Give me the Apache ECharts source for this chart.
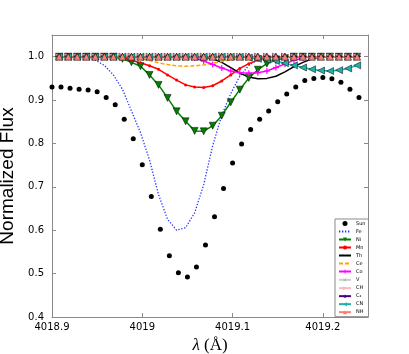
<!DOCTYPE html>
<html>
<head>
<meta charset="utf-8">
<script src="https://cdn.jsdelivr.net/npm/echarts@6/dist/echarts.min.js"></script>
<style>
  html, body { margin: 0; padding: 0; background: #fff; }
  #chart { width: 409px; height: 354px; }
</style>
</head>
<body>
<div id="chart"></div>
<script>
// observed solar spectrum (every 0.01 A)
const sunWave = [4018.90, 4018.91, 4018.92, 4018.93, 4018.94, 4018.95, 4018.96, 4018.97, 4018.98, 4018.99,
  4019.00, 4019.01, 4019.02, 4019.03, 4019.04, 4019.05, 4019.06, 4019.07, 4019.08, 4019.09,
  4019.10, 4019.11, 4019.12, 4019.13, 4019.14, 4019.15, 4019.16, 4019.17, 4019.18, 4019.19,
  4019.20, 4019.21, 4019.22, 4019.23, 4019.24]
const sunFlux = [0.930, 0.930, 0.927, 0.925, 0.923, 0.919, 0.906, 0.889, 0.856, 0.811,
  0.751, 0.678, 0.602, 0.541, 0.502, 0.492, 0.515, 0.566, 0.631, 0.696,
  0.755, 0.799, 0.832, 0.856, 0.875, 0.896, 0.914, 0.930, 0.945, 0.950,
  0.952, 0.949, 0.941, 0.925, 0.906]

// synthetic spectra grid
const synWave = [4018.908, 4018.918, 4018.928, 4018.938, 4018.948, 4018.958, 4018.968, 4018.978, 4018.988, 4018.998,
  4019.008, 4019.018, 4019.028, 4019.038, 4019.048, 4019.058, 4019.068, 4019.078, 4019.088, 4019.098,
  4019.108, 4019.118, 4019.128, 4019.138, 4019.148, 4019.158, 4019.168, 4019.178, 4019.188, 4019.198,
  4019.208, 4019.218, 4019.228, 4019.238]
const feFlux = [1.0, 1.0, 1.0, 0.999, 0.992, 0.980, 0.958, 0.925, 0.875, 0.825,
  0.762, 0.682, 0.625, 0.600, 0.606, 0.640, 0.705, 0.795, 0.865, 0.915,
  0.955, 0.980, 0.993, 0.998, 1.0, 1.0, 1.0, 1.0, 1.0, 1.0,
  1.0, 1.0, 1.0, 1.0]
const niFlux = [1.0, 1.0, 1.0, 1.0, 1.0, 1.0, 1.0, 0.995, 0.987, 0.978,
  0.958, 0.935, 0.905, 0.874, 0.851, 0.829, 0.828, 0.841, 0.864, 0.895,
  0.924, 0.951, 0.970, 0.984, 0.992, 0.997, 1.0, 1.0, 1.0, 1.0,
  1.0, 1.0, 1.0, 1.0]
const mnFlux = [1.0, 1.0, 1.0, 1.0, 1.0, 1.0, 1.0, 0.998, 0.992, 0.986,
  0.979, 0.971, 0.958, 0.946, 0.935, 0.930, 0.929, 0.933, 0.944, 0.958,
  0.973, 0.984, 0.992, 0.997, 1.0, 1.0, 1.0, 1.0, 1.0, 1.0,
  1.0, 1.0, 1.0, 1.0]
const thFlux = [1.0, 1.0, 1.0, 1.0, 1.0, 1.0, 1.0, 1.0, 1.0, 1.0,
  1.0, 1.0, 1.0, 1.0, 1.0, 1.0, 0.999, 0.995, 0.987, 0.975,
  0.962, 0.953, 0.949, 0.950, 0.955, 0.965, 0.977, 0.987, 0.995, 1.0,
  1.0, 1.0, 1.0, 1.0]
const ceFlux = [1.0, 1.0, 1.0, 1.0, 1.0, 1.0, 1.0, 1.0, 1.0, 0.996,
  0.991, 0.986, 0.982, 0.979, 0.978, 0.979, 0.981, 0.985, 0.989, 0.993,
  0.997, 1.0, 1.0, 1.0, 1.0, 1.0, 1.0, 1.0, 1.0, 1.0,
  1.0, 1.0, 1.0, 1.0]
const coFlux = [1.0, 1.0, 1.0, 1.0, 1.0, 1.0, 1.0, 1.0, 1.0, 1.0,
  1.0, 1.0, 1.0, 1.0, 1.0, 0.997, 0.990, 0.982, 0.974, 0.967,
  0.963, 0.962, 0.963, 0.967, 0.975, 0.983, 0.992, 0.997, 1.0, 1.0,
  1.0, 1.0, 1.0, 1.0]
const vFlux = [1.0, 1.0, 1.0, 1.0, 1.0, 1.0, 1.0, 1.0, 1.0, 1.0,
  1.0, 1.0, 1.0, 1.0, 1.0, 1.0, 1.0, 1.0, 1.0, 1.0,
  1.0, 1.0, 1.0, 1.0, 1.0, 1.0, 1.0, 1.0, 1.0, 1.0,
  1.0, 1.0, 1.0, 1.0]
const chFlux = [1.0, 1.0, 1.0, 1.0, 1.0, 1.0, 1.0, 1.0, 1.0, 1.0,
  1.0, 1.0, 1.0, 1.0, 1.0, 1.0, 1.0, 1.0, 1.0, 1.0,
  1.0, 1.0, 1.0, 1.0, 1.0, 1.0, 1.0, 1.0, 1.0, 1.0,
  1.0, 1.0, 1.0, 1.0]
const c2Flux = [1.0, 1.0, 1.0, 1.0, 1.0, 1.0, 1.0, 1.0, 1.0, 1.0,
  1.0, 1.0, 1.0, 1.0, 1.0, 1.0, 1.0, 1.0, 1.0, 1.0,
  1.0, 1.0, 1.0, 1.0, 1.0, 1.0, 1.0, 1.0, 1.0, 1.0,
  1.0, 1.0, 1.0, 1.0]
const cnFlux = [1.0, 1.0, 1.0, 1.0, 1.0, 1.0, 1.0, 1.0, 1.0, 1.0,
  1.0, 1.0, 1.0, 1.0, 1.0, 1.0, 1.0, 1.0, 1.0, 1.0,
  1.0, 0.998, 0.995, 0.993, 0.990, 0.985, 0.980, 0.975, 0.971, 0.968,
  0.967, 0.969, 0.973, 0.980]
const nhFlux = [1.0, 1.0, 1.0, 1.0, 1.0, 1.0, 1.0, 1.0, 1.0, 1.0,
  1.0, 1.0, 1.0, 1.0, 1.0, 1.0, 1.0, 1.0, 1.0, 1.0,
  1.0, 1.0, 1.0, 1.0, 1.0, 1.0, 1.0, 1.0, 1.0, 1.0,
  1.0, 1.0, 1.0, 1.0]

const PLUS = 'path://M4,0H6V4H10V6H6V10H4V6H0V4H4Z'
const STAR = 'path://M50,0L61,35H98L68,57L79,91L50,70L21,91L32,57L2,35H39Z'
const frame = '#8a8a8a'

const pairs = (xs, ys) => xs.map((x, i) => [x, ys[i]])

function synLine(name, flux, color, opts) {
  return Object.assign({
    name,
    type: 'line',
    data: pairs(synWave, flux),
    showAllSymbol: true,
    silent: true,
    color,
    symbol: 'none',
    lineStyle: { color, width: 1.5 },
    itemStyle: { color, borderColor: '#000', borderWidth: 0.5 }
  }, opts)
}

const chart = echarts.init(document.getElementById('chart'))

const xBase = {
  type: 'value', min: 4018.9, max: 4019.25, interval: 0.1,
  axisLine: { onZero: false, lineStyle: { color: frame, width: 1 } },
  axisTick: { inside: true, length: 4, lineStyle: { color: frame } },
  splitLine: { show: false }
}
const yBase = {
  type: 'value', min: 0.4, max: 1.05, interval: 0.1,
  axisLine: { onZero: false, lineStyle: { color: frame, width: 1 } },
  axisTick: { inside: true, length: 4, lineStyle: { color: frame } },
  splitLine: { show: false }
}

// line-only entries: hide the legend symbol, keep the line
const noMark = { opacity: 0, borderWidth: 0 }

chart.setOption({
  animation: false,
  grid: { left: 52, right: 41, top: 35, bottom: 37, outerBoundsMode: 'none', containLabel: false },
  legend: {
    orient: 'vertical',
    left: 335, top: 219,
    padding: [2, 3],
    itemGap: 3,
    itemWidth: 12,
    itemHeight: 5,
    backgroundColor: '#fff',
    borderColor: frame,
    borderWidth: 1,
    itemStyle: { borderWidth: 0 },
    textStyle: { fontSize: 5, lineHeight: 5, color: '#000', fontFamily: 'DejaVu Sans' },
    data: ['Sun', { name: 'Fe', itemStyle: noMark }, 'Ni', 'Mn', { name: 'Th', itemStyle: noMark },
      { name: 'Ce', itemStyle: noMark }, 'Co', 'V', 'CH', 'C₂', 'CN', 'NH']
  },
  xAxis: [
    Object.assign({}, xBase, {
      position: 'bottom',
      axisLabel: {
        showMaxLabel: false, color: '#000', fontSize: 10, fontFamily: 'DejaVu Sans', margin: 5,
        formatter: v => String(+v.toFixed(1))
      },
      name: '{i|λ} (Å)',
      nameLocation: 'middle',
      nameGap: 19,
      nameTextStyle: {
        color: '#000', fontSize: 17, fontFamily: 'Liberation Serif',
        rich: { i: { fontStyle: 'italic', fontSize: 17, fontFamily: 'Liberation Serif' } }
      }
    }),
    Object.assign({}, xBase, { position: 'top', axisLabel: { show: false } })
  ],
  yAxis: [
    Object.assign({}, yBase, {
      position: 'left',
      axisLabel: {
        showMaxLabel: false, color: '#000', fontSize: 10, fontFamily: 'DejaVu Sans', margin: 8,
        formatter: v => v.toFixed(1)
      },
      name: 'Normalized Flux',
      nameLocation: 'middle',
      nameGap: 24,
      nameTextStyle: { color: '#000', fontSize: 19, fontFamily: 'Liberation Sans' }
    }),
    Object.assign({}, yBase, { position: 'right', axisLabel: { show: false } })
  ],
  series: [
    {
      name: 'Sun', type: 'scatter', silent: true,
      data: pairs(sunWave, sunFlux),
      symbolSize: 5,
      itemStyle: { color: '#000', opacity: 1 }
    },
    synLine('Fe', feFlux, '#2233ff', { lineStyle: { color: '#2233ff', width: 1.3, type: [1.3, 1.7] } }),
    synLine('Ni', niFlux, '#008000', { symbol: 'triangle', symbolSize: 7, symbolRotate: 180 }),
    synLine('Mn', mnFlux, '#ff0000', { symbol: 'circle', symbolSize: 3, itemStyle: { color: '#ff0000', borderWidth: 0 } }),
    synLine('Th', thFlux, '#000000'),
    synLine('Ce', ceFlux, '#ffa500', { lineStyle: { color: '#ffa500', width: 1.5, type: [4, 2] } }),
    synLine('Co', coFlux, '#ff00ff', { symbol: PLUS, symbolSize: 6, itemStyle: { color: '#ff00ff', borderWidth: 0 } }),
    synLine('V', vFlux, '#cccccc', { symbol: PLUS, symbolSize: 6, symbolRotate: 45, itemStyle: { color: '#bbbbbb', borderWidth: 0 } }),
    synLine('CH', chFlux, '#ffb6c1', { symbol: 'triangle', symbolSize: 7, symbolRotate: -90 }),
    synLine('C₂', c2Flux, '#4b0082', { symbol: STAR, symbolSize: 7 }),
    synLine('CN', cnFlux, '#20b2aa', { symbol: 'triangle', symbolSize: 7, symbolRotate: 90 }),
    synLine('NH', nhFlux, '#fa8072', { symbol: 'triangle', symbolSize: 7 })
  ]
})
</script>
</body>
</html>
